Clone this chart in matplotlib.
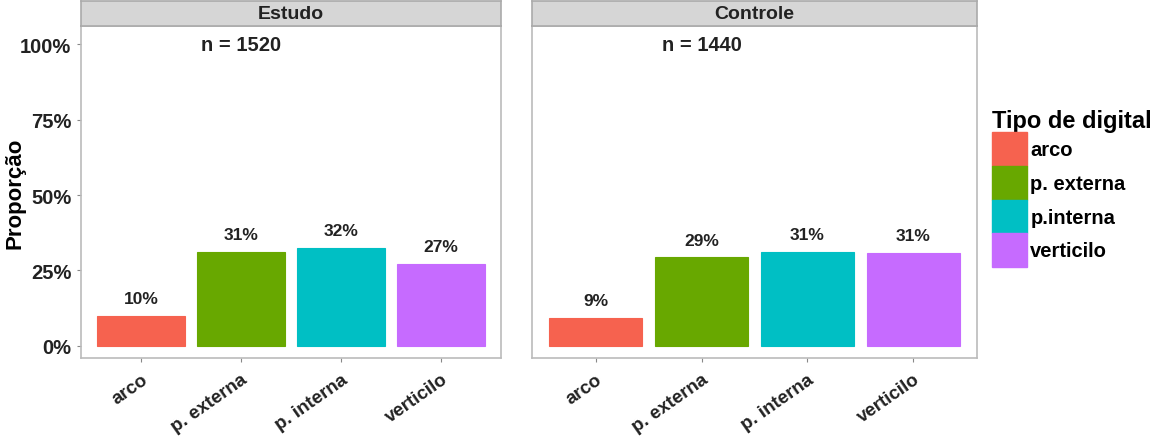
import matplotlib.pyplot as plt
from matplotlib.patches import Patch

plt.rcParams['font.family'] = ['Liberation Sans', 'DejaVu Sans']
plt.rcParams['font.weight'] = 'bold'

# dados
tipos = ['arco', 'p. externa', 'p. interna', 'verticilo']
legenda = ['arco', 'p. externa', 'p.interna', 'verticilo']
estudo = [0.099, 0.311, 0.324, 0.272]
controle = [0.094, 0.293, 0.312, 0.309]
grupos = ['Estudo', 'Controle']
n_grupos = [1520, 1440]
cores = ['#F6624F', '#68A800', '#00BFC4', '#C66BFF']

W, H = 1167, 439
fig = plt.figure(figsize=(W / 100, H / 100), dpi=100)

# posicoes dos paineis em pixels (x0, x1)
paineis = [(81, 501), (532, 977)]
y_top, y_bot, strip_h = 27, 359, 25

for i, (valores, nome, n) in enumerate(zip([estudo, controle], grupos, n_grupos)):
    x0, x1 = paineis[i]
    ax = fig.add_axes([x0 / W, 1 - y_bot / H, (x1 - x0) / W, (y_bot - y_top) / H])
    xs = range(1, len(tipos) + 1)
    ax.bar(xs, valores, width=0.88, color=cores, edgecolor=cores, linewidth=0.8)
    for x, v in zip(xs, valores):
        ax.annotate(f'{round(v * 100):.0f}%', (x, v), xytext=(0, 7), textcoords='offset points',
                    ha='center', va='bottom', fontsize=12.5, fontweight='bold', color='#222222')
    ax.text(2, 1.0, f'n = {n}', ha='center', va='center', fontsize=14.5, fontweight='bold', color='#222222')
    ax.set_xlim(0.4, 4.6)
    ax.set_ylim(-0.04, 1.06)
    ax.set_xticks(list(xs))
    ax.set_xticklabels(tipos, rotation=35, ha='right', rotation_mode='anchor',
                       fontsize=13.5, fontweight='bold', color='#222222')
    ax.tick_params(axis='x', length=3, color='#888888', pad=6)
    ax.set_yticks([0, 0.25, 0.5, 0.75, 1.0])
    if i == 0:
        ax.set_yticklabels(['0%', '25%', '50%', '75%', '100%'], fontsize=14.5,
                           fontweight='bold', color='#222222')
        ax.tick_params(axis='y', length=3, color='#888888', pad=4)
        ax.set_ylabel('Proporção', fontsize=16, fontweight='bold')
        ax.yaxis.set_label_coords(-0.131, 0.5)
    else:
        ax.tick_params(axis='y', length=0, labelleft=False)
    for s in ax.spines.values():
        s.set_color('#bbbbbb')
        s.set_linewidth(1.2)

    # faixa do titulo do painel
    sax = fig.add_axes([x0 / W, 1 - y_top / H, (x1 - x0) / W, strip_h / H])
    sax.set_facecolor('#d6d6d6')
    sax.set_xticks([])
    sax.set_yticks([])
    for s in sax.spines.values():
        s.set_color('#aaaaaa')
        s.set_linewidth(1.2)
    sax.text(0.5, 0.5, nome, ha='center', va='center', fontsize=14,
             fontweight='bold', color='#222222', transform=sax.transAxes)

handles = [Patch(facecolor=c, edgecolor=c) for c in cores]
leg = fig.legend(handles, legenda, title='Tipo de digital', loc='upper left',
                 bbox_to_anchor=(984 / W, 1 - 102 / H), frameon=False,
                 handlelength=1.75, handleheight=2.2, handletextpad=0.15,
                 labelspacing=0.0, borderaxespad=0,
                 prop={'size': 14.5, 'weight': 'bold'},
                 title_fontproperties={'size': 17, 'weight': 'bold'})
leg._legend_box.align = 'left'

fig.savefig('out.png', dpi=100)
